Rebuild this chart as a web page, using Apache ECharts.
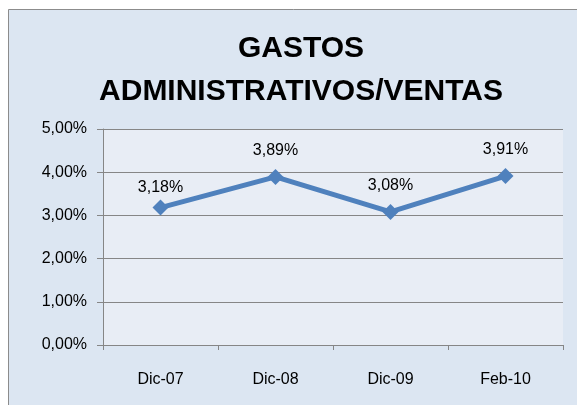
<!DOCTYPE html>
<html>
<head>
<meta charset="utf-8">
<script src="https://cdn.jsdelivr.net/npm/echarts@6/dist/echarts.min.js"></script>
<style>
  html, body { margin: 0; padding: 0; background: #ffffff; }
  #chart { width: 577px; height: 405px; }
</style>
</head>
<body>
<div id="chart"></div>
<script>
var categories = ['Dic-07', 'Dic-08', 'Dic-09', 'Feb-10'];
var ratios = [3.18, 3.89, 3.08, 3.91];
var yTicks = [0, 1, 2, 3, 4, 5];

function pct(v) {
  return v.toFixed(2).replace('.', ',') + '%';
}

var chart = echarts.init(document.getElementById('chart'));
var option = {
  backgroundColor: '#ffffff',
  graphic: [{
    type: 'rect',
    shape: { x: 8.5, y: 9.5, width: 600, height: 420 },
    style: { fill: '#dce6f2', stroke: '#8c8c8c', lineWidth: 1 },
    z: -10
  }],
  title: {
    text: 'GASTOS\nADMINISTRATIVOS/VENTAS',
    left: 296,
    top: 22,
    textAlign: 'center',
    textStyle: {
      fontFamily: 'Liberation Sans',
      fontSize: 30,
      fontWeight: 'bold',
      color: '#000',
      lineHeight: 43
    }
  },
  grid: {
    left: 103,
    right: 14,
    top: 129,
    bottom: 60,
    show: true,
    backgroundColor: '#e8edf5',
    borderWidth: 0
  },
  xAxis: {
    type: 'category',
    data: categories,
    boundaryGap: true,
    axisLine: { lineStyle: { color: '#868686', width: 1 } },
    axisTick: { show: true, length: 5, lineStyle: { color: '#868686' } },
    axisLabel: {
      margin: 27,
      color: '#000',
      fontFamily: 'Liberation Sans',
      fontSize: 16
    }
  },
  yAxis: {
    type: 'value',
    min: yTicks[0],
    max: yTicks[yTicks.length - 1],
    interval: 1,
    axisLine: { show: true, lineStyle: { color: '#868686', width: 1 } },
    axisTick: { show: true, length: 6, lineStyle: { color: '#868686' } },
    splitLine: { show: true, lineStyle: { color: '#868686', width: 1 } },
    axisLabel: {
      margin: 16,
      color: '#000',
      fontFamily: 'Liberation Sans',
      fontSize: 16,
      formatter: function (v) { return pct(v); }
    }
  },
  series: [{
    name: 'Gastos administrativos/ventas',
    type: 'line',
    data: ratios.map(function (v, i) {
      // first label sits closer to its point in the original
      return i === 0 ? { value: v, label: { distance: 4 } } : v;
    }),
    symbol: 'diamond',
    symbolSize: 16,
    lineStyle: { color: '#4f81bd', width: 5 },
    itemStyle: { color: '#4f81bd' },
    label: {
      show: true,
      position: 'top',
      distance: 10,
      color: '#000',
      fontFamily: 'Liberation Sans',
      fontSize: 16,
      formatter: function (p) { return pct(p.value); }
    }
  }]
};
chart.setOption(option);
</script>
</body>
</html>
